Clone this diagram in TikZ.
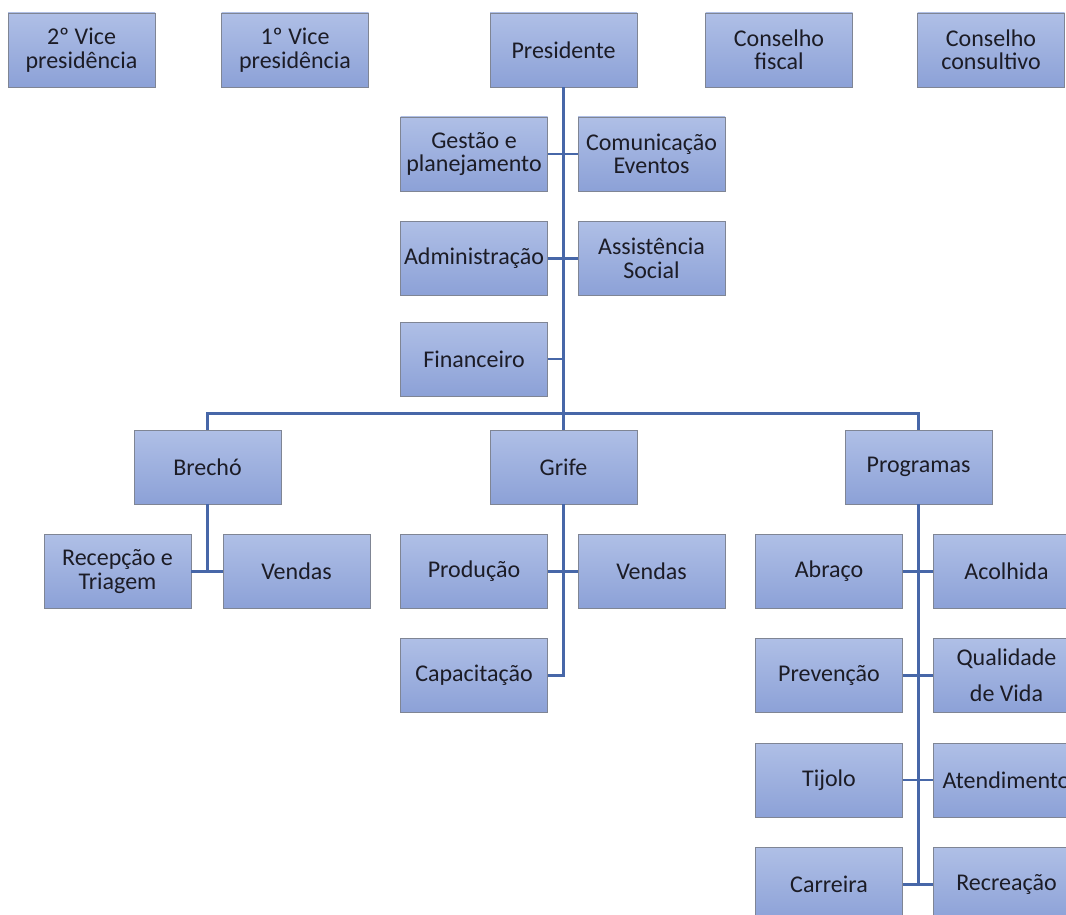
\documentclass[tikz,border=0pt]{standalone}
\usepackage{fontspec}
\setmainfont{Carlito}
\definecolor{boxtop}{HTML}{AFBFE6}
\definecolor{boxbot}{HTML}{8CA1D7}
\definecolor{boxline}{HTML}{7F8594}
\definecolor{orgline}{HTML}{4767A8}
\definecolor{orgtext}{HTML}{1C1C26}
\usetikzlibrary{calc}

\begin{document}
\begin{tikzpicture}[x=1pt,y=-1pt,
    orgbox/.style={draw=boxline, line width=0.9pt, top color=boxtop, bottom color=boxbot,
        minimum width=147pt, minimum height=74pt, inner sep=1pt, align=center,
        text=orgtext, font=\fontsize{24}{23.5}\selectfont},
    link/.style={draw=orgline, line width=2.2pt}]
            \useasboundingbox (0,0) rectangle (1066,915);
            \clip (0,0) rectangle (1066,915);
            % top row
            \node[orgbox] (vice2) at (81.5,50) {2º Vice\\presidência};
            \node[orgbox] (vice1) at (295,50) {1º Vice\\presidência};
            \node[orgbox] (pres) at (563.5,50) {Presidente};
            \node[orgbox] (fiscal) at (779,50) {Conselho\\fiscal};
            \node[orgbox] (consult) at (991,50) {Conselho\\consultivo};
            % assessorias
            \node[orgbox] (gestao) at (474,154) {Gestão e\\planejamento};
            \node[orgbox] (comunic) at (651.5,154) {Comunicação\\Eventos};
            \node[orgbox] (admin) at (474,258.5) {Administração};
            \node[orgbox] (assist) at (651.5,258.5) {Assistência\\Social};
            \node[orgbox] (financ) at (474,359) {Financeiro};
            % areas
            \node[orgbox] (brecho) at (207.5,467) {Brechó};
            \node[orgbox] (grife) at (563.5,467) {Grife};
            \node[orgbox] (progr) at (918.5,467) {Programas};
            \node[orgbox] (recep) at (117.5,571.5) {Recepção e\\Triagem};
            \node[orgbox] (vendasB) at (296.5,571.5) {Vendas};
            \node[orgbox] (producao) at (474,571.5) {Produção};
            \node[orgbox] (vendasG) at (651.5,571.5) {Vendas};
            \node[orgbox] (capac) at (474,675.5) {Capacitação};
            \node[orgbox] (abraco) at (829,571.5) {Abraço};
            \node[orgbox] (acolhida) at (1006.5,571.5) {Acolhida};
            \node[orgbox] (prevencao) at (829,675.5) {Prevenção};
            \node[orgbox] (qualidade) at (1006.5,675.5) {Qualidade\\[13pt]de Vida};
            \node[orgbox] (tijolo) at (829,780) {Tijolo};
            \node[orgbox] (atend) at (1006.5,780) {Atendimento};
            \node[orgbox] (carreira) at (829,884.5) {Carreira};
            \node[orgbox] (recreacao) at (1006.5,884.5) {Recreação};
            % connectors
            \coordinate (bus) at ($(pres.south)+(0,326)$);
            \draw[link] (pres.south) -- (grife.north);
            \draw[link] (brecho.north) |- (bus) -| (progr.north);
            \draw[link] (gestao.east) -- (comunic.west);
            \draw[link] (admin.east) -- (assist.west);
            \draw[link] (financ.east) -- (financ.east -| pres.south);
            \draw[link] (brecho.south) -- (recep.east -| brecho.south);
            \draw[link] (recep.east) -- (vendasB.west);
            \draw[link] (grife.south) |- (capac.east);
            \draw[link] (producao.east) -- (vendasG.west);
            \draw[link] (progr.south) -- (carreira.east -| progr.south);
            \foreach \l/\r in {abraco/acolhida, prevencao/qualidade, tijolo/atend, carreira/recreacao}{
                \draw[link] (\l.east) -- (\r.west);
            }
        \end{tikzpicture}
\end{document}
